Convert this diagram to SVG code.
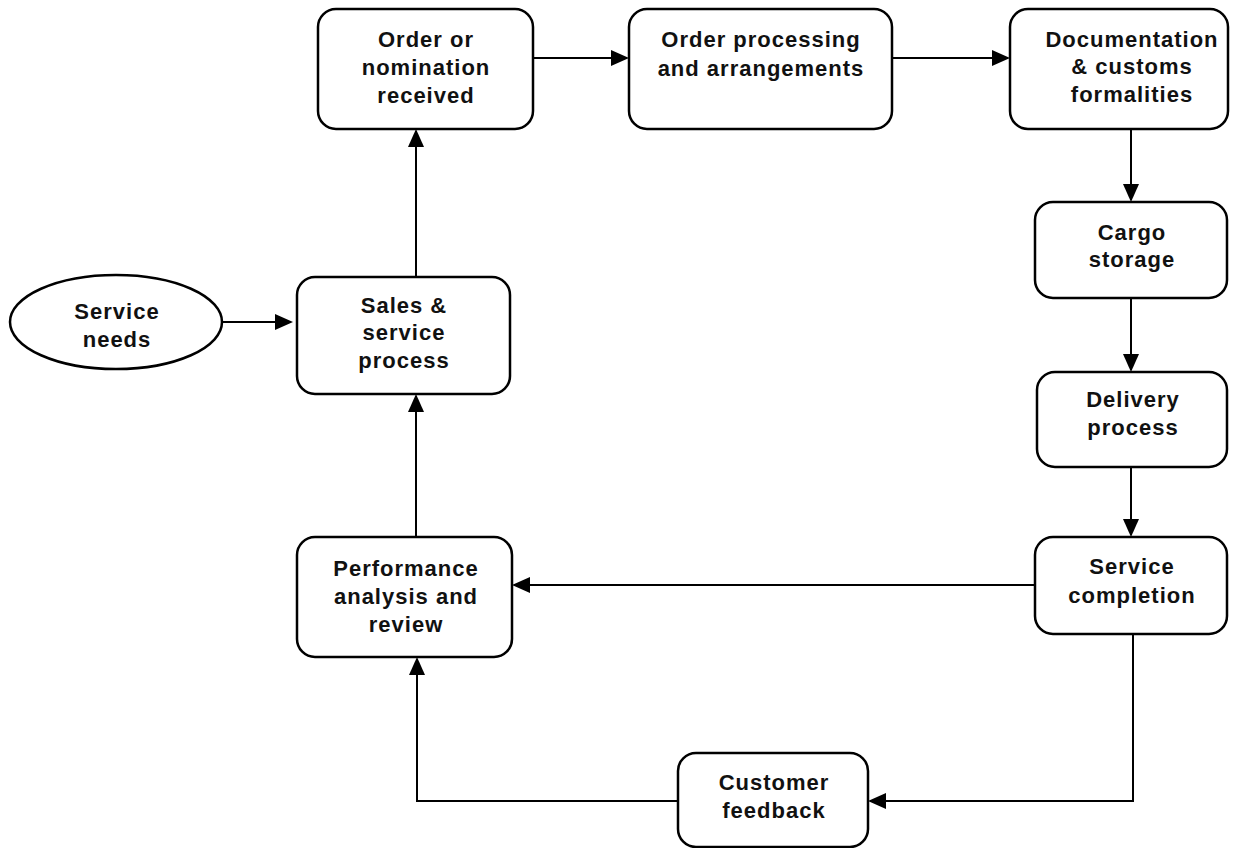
<svg xmlns="http://www.w3.org/2000/svg" width="1250" height="848" viewBox="0 0 1250 848">
<style>
.box{fill:#fff;stroke:#000;stroke-width:2.5}
.t{font-family:"Liberation Sans",Arial,sans-serif;font-weight:bold;font-size:22px;letter-spacing:1px;fill:#111;text-anchor:middle}
.c{fill:none;stroke:#000;stroke-width:2}
.ah{fill:#000}
</style>
<rect width="1250" height="848" fill="#fff"/>
<g id="connectors">
<path class="c" d="M222,322 H291"/>
<polygon class="ah" points="293,322 275,314 275,330"/>
<path class="c" d="M416,277 V131"/>
<polygon class="ah" points="416,129 408,147 424,147"/>
<path class="c" d="M533,58 H627"/>
<polygon class="ah" points="629,58 611,50 611,66"/>
<path class="c" d="M892,58 H1008"/>
<polygon class="ah" points="1010,58 992,50 992,66"/>
<path class="c" d="M1131,129 V200"/>
<polygon class="ah" points="1131,202 1123,184 1139,184"/>
<path class="c" d="M1131,298 V370"/>
<polygon class="ah" points="1131,372 1123,354 1139,354"/>
<path class="c" d="M1131,467 V535"/>
<polygon class="ah" points="1131,537 1123,519 1139,519"/>
<path class="c" d="M1035,585 H514"/>
<polygon class="ah" points="512,585 530,577 530,593"/>
<path class="c" d="M1133,634 V801 H870"/>
<polygon class="ah" points="868,801 886,793 886,809"/>
<path class="c" d="M678,801 H417 V659"/>
<polygon class="ah" points="417,657 409,675 425,675"/>
<path class="c" d="M416,537 V396"/>
<polygon class="ah" points="416,394 408,412 424,412"/>
</g>
<g id="service-needs">
<ellipse class="box" cx="116" cy="322" rx="106" ry="47"/>
<text class="t" x="117" y="319">Service</text>
<text class="t" x="117" y="347">needs</text>
</g>
<g id="sales-service">
<rect class="box" x="297" y="277" width="213" height="117" rx="18"/>
<text class="t" x="404" y="313">Sales &amp;</text>
<text class="t" x="404" y="340">service</text>
<text class="t" x="404" y="368">process</text>
</g>
<g id="order-received">
<rect class="box" x="318" y="9" width="215" height="120" rx="18"/>
<text class="t" x="426" y="47">Order or</text>
<text class="t" x="426" y="75">nomination</text>
<text class="t" x="426" y="103">received</text>
</g>
<g id="order-processing">
<rect class="box" x="629" y="9" width="263" height="120" rx="18"/>
<text class="t" x="761" y="47">Order processing</text>
<text class="t" x="761" y="76">and arrangements</text>
</g>
<g id="documentation">
<rect class="box" x="1010" y="9" width="218" height="120" rx="18"/>
<text class="t" x="1132" y="47">Documentation</text>
<text class="t" x="1132" y="74">&amp; customs</text>
<text class="t" x="1132" y="102">formalities</text>
</g>
<g id="cargo-storage">
<rect class="box" x="1035" y="202" width="192" height="96" rx="18"/>
<text class="t" x="1132" y="240">Cargo</text>
<text class="t" x="1132" y="267">storage</text>
</g>
<g id="delivery-process">
<rect class="box" x="1037" y="372" width="190" height="95" rx="18"/>
<text class="t" x="1133" y="407">Delivery</text>
<text class="t" x="1133" y="435">process</text>
</g>
<g id="service-completion">
<rect class="box" x="1035" y="537" width="192" height="97" rx="18"/>
<text class="t" x="1132" y="574">Service</text>
<text class="t" x="1132" y="603">completion</text>
</g>
<g id="performance-analysis">
<rect class="box" x="297" y="537" width="215" height="120" rx="18"/>
<text class="t" x="406" y="576">Performance</text>
<text class="t" x="406" y="604">analysis and</text>
<text class="t" x="406" y="632">review</text>
</g>
<g id="customer-feedback">
<rect class="box" x="678" y="753" width="190" height="94" rx="18"/>
<text class="t" x="774" y="790">Customer</text>
<text class="t" x="774" y="818">feedback</text>
</g>
</svg>
